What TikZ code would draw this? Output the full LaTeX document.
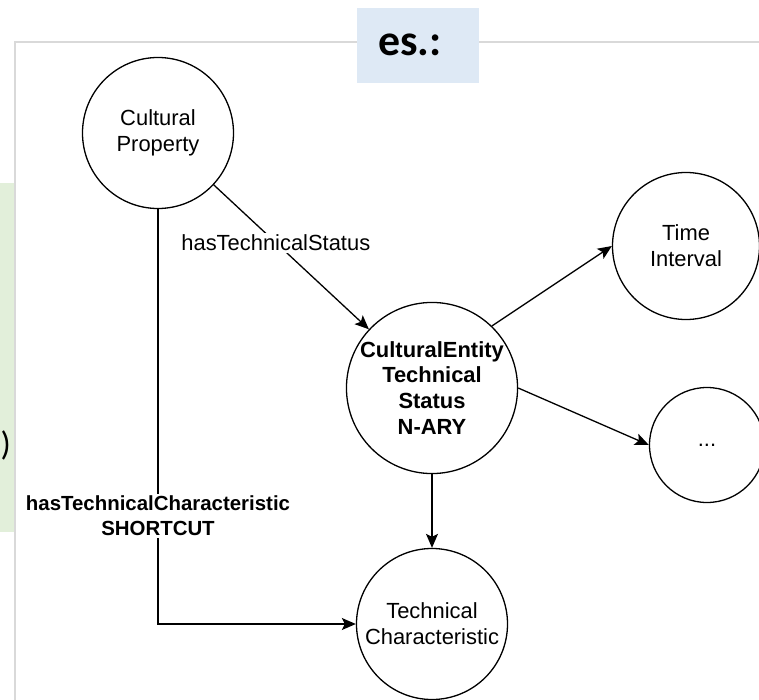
\documentclass[tikz,border=0pt]{standalone}
\usepackage{fontspec}
\setmainfont{Liberation Sans}
\newfontfamily\notefont{Carlito}
\usetikzlibrary{arrows.meta}

\definecolor{notegreen}{RGB}{226,239,218}
\definecolor{noteblue}{RGB}{222,233,245}
\definecolor{framegray}{RGB}{217,217,217}

\begin{document}
\begin{tikzpicture}[
  x=1bp, y=-1bp,
  concept/.style = {circle, draw, line width=1.3bp, fill=white, inner sep=0pt, align=center,
                    font=\fontsize{22}{26}\selectfont},
  link/.style = {-{Stealth[length=14bp, width=12bp, inset=3bp]}, line width=1.3bp},
  edgelabel/.style = {fill=white, inner sep=2bp, align=center, font=\fontsize{22}{26}\selectfont},
  every node/.style = {text=black}
]

% Canvas
\useasboundingbox (0,0) rectangle (759,700);
\clip (0,0) rectangle (759,700);

% Background panels
\fill[notegreen] (0,183) rectangle (14,532);
\node[anchor=west, inner sep=0pt, font=\notefont\fontsize{34}{34}\selectfont] (paren) at (0.5,445) {)};
\draw[framegray, line width=1.5bp, fill=white] (15,42) rectangle (800,760);
\fill[noteblue] (357,8) rectangle (479,83);
\node[font=\notefont\bfseries\fontsize{44}{44}\selectfont] (es) at (410,45) {es.:};

% Concepts
\node[concept, minimum size=151bp] (cp) at (158,133) {Cultural\\Property};
\node[concept, minimum size=169bp, font=\bfseries\fontsize{22}{26}\selectfont] (cets) at (432,388)
  {CulturalEntity\\Technical\\Status\\N-ARY};
\node[concept, minimum size=151bp] (tc) at (432,624) {Technical\\Characteristic};
\node[concept, minimum size=147bp] (ti) at (686,246) {Time\\Interval};
\node[concept, minimum size=115bp] (dots) at (707,445) {...};

% Relations
\draw[link] (cp) -- (cets);
\draw[link] (cets.46) -- (ti.west);
\draw[link] (cets.east) -- (dots.west);
\draw[link] (cets.south) -- (tc.north);
\draw[link] (cp.south) -- (cp.south |- tc.west) -- (tc.west);

% Relation labels
\path (cp) -- node[edgelabel, pos=0.4] (status) {hasTechnicalStatus} (cets);
\path (cp.south) -- node[edgelabel, pos=0.74, font=\bfseries\fontsize{20.5}{25}\selectfont] (shortcut)
  {hasTechnicalCharacteristic\\SHORTCUT} (cp.south |- tc.west);

\end{tikzpicture}
\end{document}
